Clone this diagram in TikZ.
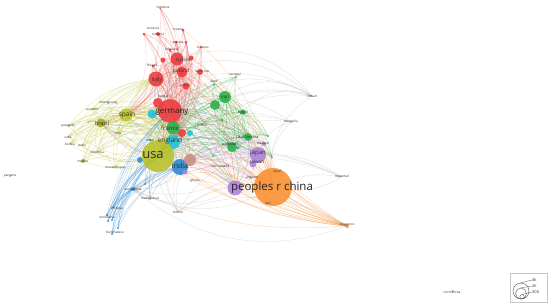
\documentclass[tikz,border=0pt]{standalone}
\usepackage{fontspec}
\setmainfont{Open Sans}
\pgfdeclarelayer{paper}
\pgfdeclarelayer{edges}
\pgfsetlayers{paper,edges,main}

\definecolor{vred}{HTML}{EE3D3F}
\definecolor{vgreen}{HTML}{2DB34A}
\definecolor{vcyan}{HTML}{22C3D6}
\definecolor{vblue}{HTML}{2F88D3}
\definecolor{vyel}{HTML}{B9C22C}
\definecolor{volive}{HTML}{A8A826}
\definecolor{vpurp}{HTML}{AE82DA}
\definecolor{vorange}{HTML}{FA9235}
\definecolor{vbrown}{HTML}{C89088}
\definecolor{labc}{HTML}{333333}

\tikzset{
  bub/.style={circle, inner sep=0pt, minimum size=#1, fill opacity=0.9},
  lab/.style={font=\fontsize{#1}{#1}\selectfont, inner sep=0pt, text=labc},
  lab/.default=3.2,
  link/.style={draw=#1, line width=0.35pt, draw opacity=0.3},
  eorange/.style={link=vorange, draw opacity=0.4},
  ered/.style={link=vred!85},
  egreen/.style={link=vgreen},
  eyel/.style={link=vyel, draw opacity=0.4},
  eblue/.style={link=vblue, draw opacity=0.4},
  egray/.style={link=gray, draw opacity=0.25},
  epurp/.style={link=vpurp},
}

\begin{document}
\begin{tikzpicture}[x=1pt, y=-1pt]
  \useasboundingbox (0,0) rectangle (550,308);
  \begin{pgfonlayer}{paper}
    \fill[white] (0,0) rectangle (550,308);
  \end{pgfonlayer}

  % red cluster
  \node[bub=15, fill=vred] (italy) at (156,79) {};
  \node[bub=13, fill=vred] (russia) at (177,59) {};
  \node[bub=11, fill=vred] (poland) at (182,72) {};
  \node[bub=24, fill=vred] (germany) at (170,111) {};
  \node[bub=10, fill=vred] (hungary) at (158,103) {};
  \node[bub=7, fill=vred] (austria) at (186,86) {};
  \node[bub=6, fill=vred] (czech) at (200,72) {};
  \node[bub=3, fill=vred] (finland) at (153,66) {};
  \node[bub=3, fill=vred] (slovenia) at (144,34) {};
  \node[bub=4, fill=vred] (romania) at (158,34) {};
  \node[bub=3, fill=vred] (croatia) at (183,30) {};
  \node[bub=3, fill=vred] (estonia) at (176,42) {};
  \node[bub=3, fill=vred] (lithuania) at (170,50) {};
  \node[bub=2, fill=vred] (belarus) at (201,47) {};
  \node[bub=1.5, fill=vred] (moldova) at (160,8) {};
  \node[bub=8, fill=vred] (redA) at (182,133) {};
  \node[bub=5, fill=vred] (redB) at (191,58) {};
  \node[bub=5, fill=vred] (redC) at (163,60) {};
  \node[bub=3, fill=vred] (redD) at (186,42) {};

  % green cluster
  \node[bub=13, fill=vgreen] (france) at (173,128) {};
  \node[bub=12, fill=vgreen] (iran) at (225,97) {};
  \node[bub=10, fill=vgreen] (greenA) at (215,105) {};
  \node[bub=5, fill=vgreen] (egypt) at (243,112) {};
  \node[bub=8, fill=vgreen] (saudi) at (248,137) {};
  \node[bub=10, fill=vgreen] (pakistan) at (232,147) {};
  \node[bub=2, fill=vgreen] (senegal) at (236,77) {};
  \node[bub=2, fill=vgreen] (libya) at (214,84) {};
  \node[bub=2, fill=vgreen] (greece) at (202,124) {};
  \node[bub=2, fill=vgreen] (greenB) at (268,136) {};
  \node[bub=2, fill=vgreen] (greenC) at (272,157) {};
  \node[bub=2, fill=vgreen] (greenD) at (213,156) {};
  \node[bub=3, fill=vgreen] (greenE) at (222,120) {};
  \node[bub=3, fill=vgreen] (greenF) at (238,148) {};

  % cyan cluster
  \node[bub=14, fill=vcyan] (england) at (173,142) {};
  \node[bub=9, fill=vcyan] (cyanA) at (152,114) {};
  \node[bub=6, fill=vcyan] (cyanB) at (190,133) {};
  \node[bub=2, fill=vcyan] (luxembourg) at (108,103) {};
  \node[bub=3, fill=vcyan] (israel) at (150,140) {};

  % blue cluster
  \node[bub=16, fill=vblue] (india) at (180,167) {};
  \node[bub=6, fill=vblue] (blueA) at (140,160) {};
  \node[bub=4, fill=vblue] (southafrica) at (133,189) {};
  \node[bub=2, fill=vblue] (blueB) at (145,184) {};
  \node[bub=2, fill=vblue] (ethiopia) at (113,207) {};
  \node[bub=3, fill=vblue] (botswana) at (107,215) {};
  \node[bub=2, fill=vblue] (blueC) at (112,220) {};
  \node[bub=2, fill=vblue] (blueD) at (108,221) {};
  \node[bub=2, fill=vblue] (burkinafaso) at (118,228) {};
  \node[bub=2, fill=vblue] (blueE) at (112,234) {};

  % yellow cluster
  \node[bub=32, fill=vyel] (usa) at (158,156) {};
  \node[bub=13, fill=vyel] (spain) at (126,115) {};
  \node[bub=9, fill=volive] (brazil) at (101,123) {};
  \node[bub=4, fill=volive] (mexico) at (83,161) {};
  \node[bub=2, fill=vyel] (yelA) at (88,122) {};

  % purple cluster
  \node[bub=16, fill=vpurp] (japan) at (258,155) {};
  \node[bub=7, fill=vpurp] (taiwan) at (253,164) {};
  \node[bub=15, fill=vpurp] (purpleCN) at (235,188) {};
  \node[bub=5, fill=vpurp] (purpleA) at (185,172) {};
  \node[bub=4, fill=vpurp] (thailand) at (264,144) {};
  \node[bub=2, fill=vpurp] (vietnam) at (251,178) {};

  % orange and brown
  \node[bub=38, fill=vorange] (china) at (273,187) {};
  \node[bub=4, fill=vorange] (singapore) at (347,226) {};
  \node[bub=2, fill=vorange] (panama) at (10,176) {};
  \node[bub=2, fill=vorange] (northkorea) at (453,291) {};
  \node[bub=12, fill=vbrown] (australia) at (190,160) {};

  % labels
  \node[lab=13] (t-usa) at (153,155) {usa};
  \node[lab=11.5, text=black!85] (t-china) at (272,188) {peoples r china};
  \node[lab=8, text=black!85] (t-germany) at (172,112) {germany};
  \node[lab=7] (t-india) at (180,166) {india};
  \node[lab=6.5] (t-england) at (170,141) {england};
  \node[lab=6] (t-france) at (170,128) {france};
  \node[lab=6.5] (t-spain) at (127,115) {spain};
  \node[lab=5.5] (t-brazil) at (102,123) {brazil};
  \node[lab=5.5] (t-italy) at (157,80) {italy};
  \node[lab=5] (t-russia) at (183,60) {russia};
  \node[lab=5] (t-poland) at (181,71) {poland};
  \node[lab=4.5] (t-iran) at (225,97) {iran};
  \node[lab=6] (t-japan) at (258,153) {japan};
  \node[lab=4.5] (t-taiwan) at (257,162) {taiwan};
  \node[lab=4] (t-egypt) at (243,113) {egypt};
  \node[lab=4] (t-saudi) at (247,137) {saudi arabia};
  \node[lab=4] (t-pakistan) at (230,144) {pakistan};
  \node[lab] (t-moldova) at (163,7) {moldova};
  \node[lab] (t-slovenia) at (153,28) {slovenia};
  \node[lab] (t-romania) at (158,34) {romania};
  \node[lab] (t-croatia) at (178,29) {croatia};
  \node[lab] (t-estonia) at (178,42) {estonia};
  \node[lab] (t-lithuania) at (172,49) {lithuania};
  \node[lab] (t-belarus) at (203,47) {belarus};
  \node[lab] (t-finland) at (152,65) {finland};
  \node[lab] (t-czech) at (202,72) {czech rep};
  \node[lab] (t-austria) at (185,85) {austria};
  \node[lab] (t-senegal) at (235,75) {senegal};
  \node[lab] (t-libya) at (214,82) {libya};
  \node[lab] (t-hungary) at (164,97) {hungary};
  \node[lab] (t-greece) at (202,126) {greece};
  \node[lab] (t-luxembourg) at (108,103) {luxembourg};
  \node[lab] (t-ecuador) at (92,109) {ecuador};
  \node[lab] (t-paraguay) at (68,126) {paraguay};
  \node[lab] (t-chile) at (118,133) {chile};
  \node[lab] (t-cuba) at (68,137) {cuba};
  \node[lab] (t-bolivia) at (70,144) {bolivia};
  \node[lab] (t-peru) at (82,146) {peru};
  \node[lab] (t-colombia) at (97,152) {colombia};
  \node[lab] (t-mexico) at (83,161) {mexico};
  \node[lab] (t-mozambique) at (115,168) {mozambique};
  \node[lab] (t-israel) at (150,140) {israel};
  \node[lab] (t-southafrica) at (133,189) {southafrica};
  \node[lab] (t-madagascar) at (150,199) {madagascar};
  \node[lab] (t-ethiopia) at (117,209) {ethiopia};
  \node[lab] (t-botswana) at (107,217) {botswana};
  \node[lab] (t-burkinafaso) at (115,232) {burkinafaso};
  \node[lab] (t-brunei) at (178,212) {brunei};
  \node[lab] (t-ghana) at (195,181) {ghana};
  \node[lab] (t-kuwait) at (312,96) {kuwait};
  \node[lab] (t-mongolia) at (291,122) {mongolia};
  \node[lab] (t-thailand) at (263,143) {thailand};
  \node[lab] (t-newzealand) at (220,166) {new zealand};
  \node[lab] (t-vietnam) at (252,177) {vietnam};
  \node[lab] (t-nepal) at (277,172) {nepal};
  \node[lab] (t-laos) at (268,203) {laos};
  \node[lab] (t-myanmar) at (342,177) {myanmar};
  \node[lab] (t-singapore) at (347,225) {singapore};
  \node[lab] (t-northkorea) at (452,292) {northkorea};
  \node[lab] (t-panama) at (10,176) {panama};

  % links
  \begin{pgfonlayer}{edges}
    % between the big countries
    \foreach \a/\c [count=\i] in {usa/vyel,china/vorange,germany/vred,england/vcyan,india/vblue,italy/vred,spain/vyel,france/vgreen,japan/vpurp,russia/vred,iran/vgreen,australia/vbrown,brazil/volive,pakistan/vgreen,saudi/vgreen,poland/vred,cyanA/vcyan,purpleCN/vpurp}{
      \foreach \b [count=\j] in {usa,china,germany,england,india,italy,spain,france,japan,russia,iran,australia,brazil,pakistan,saudi,poland,cyanA,purpleCN}{
        \ifnum\j>\i \draw[link=\c] (\a.center) to[bend left=22] (\b.center); \fi
      }
    }
    \foreach \t in {egypt,southafrica,mexico,thailand,taiwan,hungary,austria,blueA,greenA,t-nepal,t-laos,t-myanmar,t-vietnam,t-newzealand,t-brunei,czech,redA,redB,redC,romania,croatia}
      \draw[eorange] (china.center) to[bend right=22] (\t.center);
    \foreach \t in {china,usa,india,england,germany,japan,spain,italy,australia,pakistan,saudi,taiwan,france,southafrica,brazil,purpleCN,iran,cyanA,t-newzealand,t-vietnam,russia,t-nepal}
      \draw[eorange] (singapore.center) to[bend left=14] (\t.center);
    \foreach \t in {hungary,austria,cyanB,redA,egypt,taiwan,mexico,blueA,southafrica,t-chile,t-colombia,t-peru,t-cuba,t-bolivia,t-paraguay,t-ecuador,t-mozambique,luxembourg,israel,greenA,purpleA,t-newzealand,czech,finland}
      \draw[eyel] (usa.center) to[bend left=25] (\t.center);
    \foreach \a in {italy,russia,poland,hungary,austria,czech,finland,slovenia,romania,croatia,estonia,lithuania,belarus,redA,redB,redC,redD,moldova}
      \foreach \b in {germany,italy,russia,poland,england,spain,france,usa}
        \draw[ered] (\a.center) to[bend left=22] (\b.center);
    \foreach \a in {iran,greenA,egypt,saudi,pakistan,senegal,libya,greece,greenB,greenC,greenD,greenE,greenF}
      \foreach \b in {france,iran,greenA,saudi,pakistan,england,germany,usa,egypt}
        \draw[egreen] (\a.center) to[bend right=22] (\b.center);
    \foreach \a in {southafrica,blueB,ethiopia,botswana,blueC,blueD,burkinafaso,blueE,t-madagascar}
      \foreach \b in {southafrica,usa,england,india,germany}
        \draw[eblue] (\a.center) to[bend left=18] (\b.center);
    \foreach \a in {brazil,spain,mexico,yelA,t-chile,t-colombia,t-peru,t-cuba,t-bolivia,t-paraguay,t-ecuador,t-mozambique}
      \foreach \b in {spain,england,germany,france,italy,brazil}
        \draw[eyel] (\a.center) to[bend left=22] (\b.center);
    \foreach \a in {japan,taiwan,purpleCN,purpleA,thailand,vietnam}
      \foreach \b in {india,england,usa,germany,australia,pakistan,saudi}
        \draw[epurp] (\a.center) to[bend right=22] (\b.center);
    \foreach \t in {usa,germany,england,china,iran,egypt,india,italy,spain,russia}
      \draw[egray] (t-kuwait.center) to[bend right=35] (\t.center);
    \foreach \t in {usa,china,germany,japan,england,india}
      \draw[egray] (t-mongolia.center) to[bend right=30] (\t.center);
    \foreach \t in {usa,england,china,japan,india,australia,germany,singapore}
      \draw[egray] (t-brunei.center) to[bend left=25] (\t.center);
    \foreach \t in {china,japan,india,usa,australia,england,purpleCN,singapore}
      \draw[egray] (southafrica.center) to[bend right=30] (\t.center);
    \foreach \t in {china,japan,usa,australia,india}
      \draw[egray] (t-myanmar.center) to[bend right=18] (\t.center);
  \end{pgfonlayer}

  % legend
  \node[draw=gray!45, line width=0.4pt, minimum width=37, minimum height=29, inner sep=0pt] (legend) at (528.5,287.5) {};
  \node[circle, draw=gray!70!black, line width=0.4pt, minimum size=16, inner sep=0pt] (l4k) at (521,291) {};
  \node[circle, draw=gray!70!black, line width=0.4pt, minimum size=11, inner sep=0pt] (l2k) at (521,293.5) {};
  \node[circle, draw=gray!70!black, line width=0.4pt, minimum size=4.4, inner sep=0pt] (l300) at (522,296.8) {};
  \node[lab=4, anchor=west] (t4k) at (532,280) {4k};
  \node[lab=4, anchor=west] (t2k) at (532,286) {2k};
  \node[lab=4, anchor=west] (t300) at (532,292) {300};
  \draw[gray!70!black, line width=0.3pt] (l4k.north) -- (t4k.west);
  \draw[gray!70!black, line width=0.3pt] (l2k.north) -- (t2k.west);
  \draw[gray!70!black, line width=0.3pt] (l300.north) -- (t300.west);
\end{tikzpicture}
\end{document}
